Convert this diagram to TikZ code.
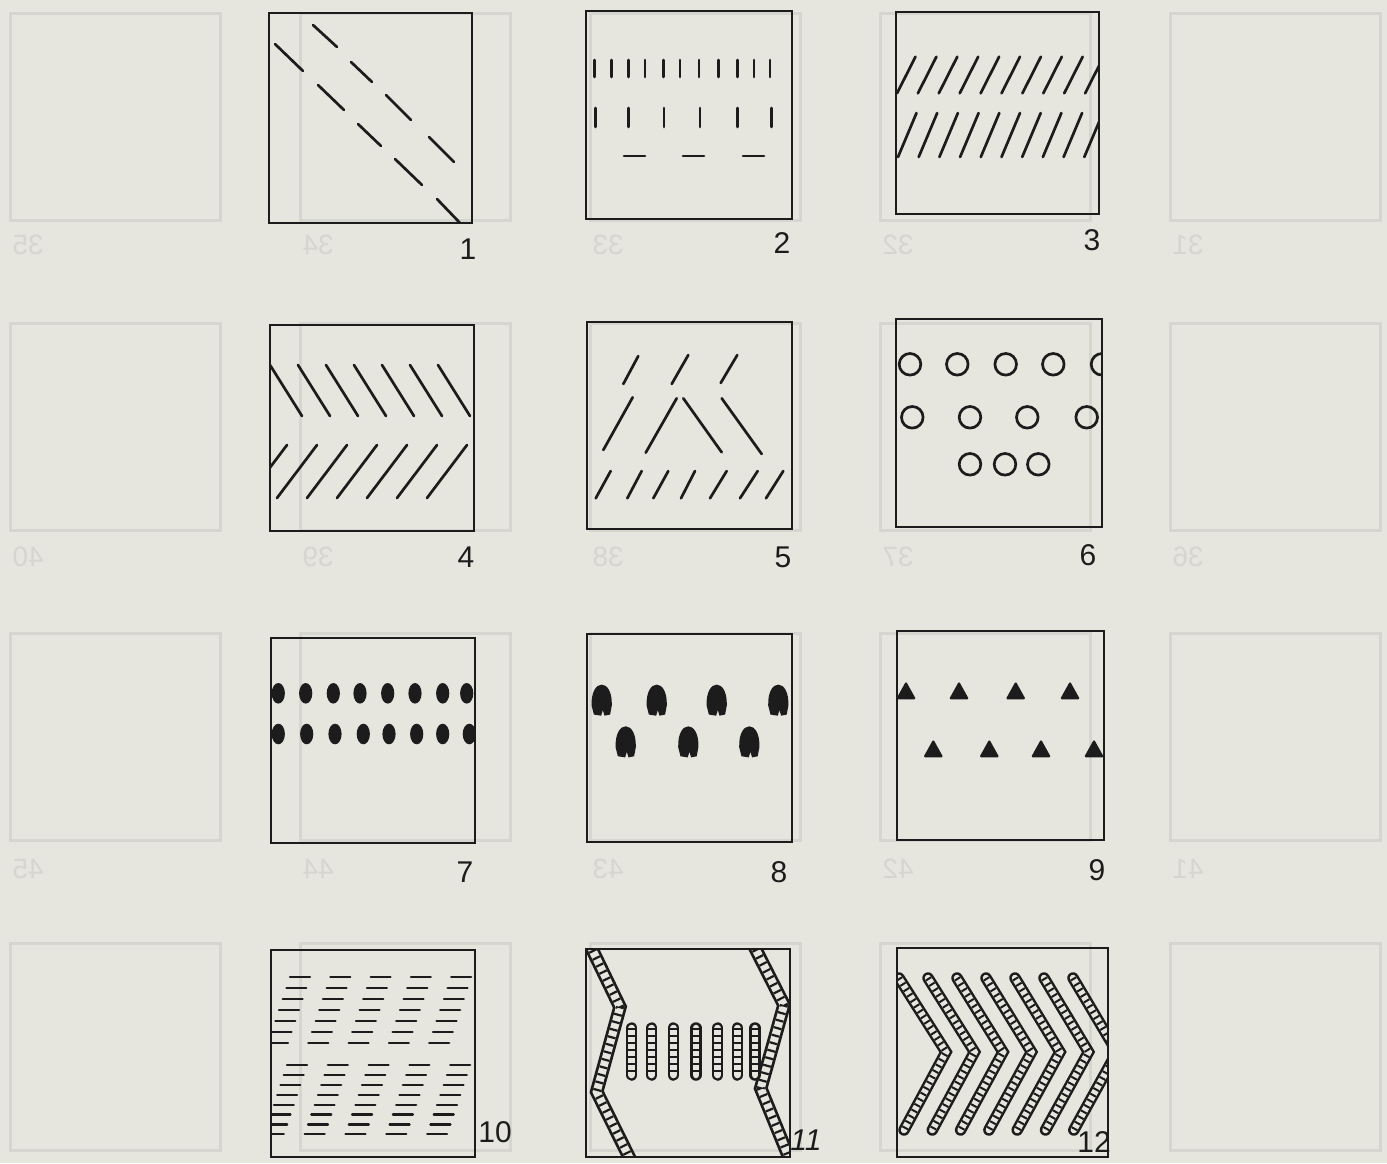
\documentclass[tikz,border=0pt]{standalone}
\usepackage{fontspec}
\setmainfont{Liberation Sans}
\definecolor{paper}{RGB}{230,230,223}
\definecolor{ink}{RGB}{28,28,28}
\definecolor{ghost}{RGB}{213,214,207}
\newcommand\ladder[4]{%
  \draw[ink,line width=#1,line join=miter] #4;
  \draw[paper,line width=#2,line join=miter] #4;
  \draw[ink,line width=#2,line cap=butt,dash pattern=#3] #4;}
\tikzset{
  frame/.style={draw=ink,line width=2.4},
  stroke/.style={draw=ink,line width=2.7},
  dashln/.style={draw=ink,line width=2.2},
  lbl/.style={inner sep=0pt,text=ink,font=\fontsize{30}{30}\selectfont},
  glbl/.style={inner sep=0pt,text=ghost,xscale=-1,font=\fontsize{28}{28}\selectfont},
  blobshape/.pic={\fill[ink,scale=1.12] (-9,5) .. controls (-10,-20) and (10,-20) .. (9,5) -- (7.5,13) -- (2.5,14) -- (1,9) -- (-0.5,14) -- (-7,13) -- cycle;},
  trishape/.pic={\fill[ink,rounded corners=1.5] (-10,9) -- (10,9) -- (0,-9) -- cycle;}
}
\begin{document}
\begin{tikzpicture}[x=1pt,y=-1pt,line cap=round]
\fill[paper] (0,0) rectangle (1387,1163);
\useasboundingbox (0,0) rectangle (1387,1163);
% ghost squares and numbers (show-through of the reverse page)
\foreach \r in {0,...,3}{
  \foreach \k in {0,...,4}{
    \draw[ghost,line width=3] ({10+290*\k},{13+310*\r}) rectangle ({220+290*\k},{220+310*\r});}}
\foreach \k/\a/\b/\c in {0/35/40/45, 1/34/39/44, 2/33/38/43, 3/32/37/42, 4/31/36/41}{
  \node[glbl] (ga\k) at ({28+290*\k},245) {\a};
  \node[glbl] (gb\k) at ({28+290*\k},557) {\b};
  \node[glbl] (gc\k) at ({28+290*\k},869) {\c};}
% ---------- Box 1
\begin{scope}
\clip (269,13) rectangle (472,223);
\foreach \a/\b/\c/\d in {275/44/303/71, 313/25/337/47, 318/85/344/110, 351/62/372/82, 358/124/381/146, 386/95/411/120, 395/159/422/185, 429/137/454/162, 437/199/460/223}
  \draw[stroke] (\a,\b) -- (\c,\d);
\end{scope}
\draw[frame] (269,13) rectangle (472,223);
\node[lbl] (n1) at (468,249) {1};
% ---------- Box 2
\foreach \x in {594.3,611.7,628.3,645,663.3,680,699,718.3,737.3,754,770}
  \draw[stroke] (\x,60) -- (\x,77);
\foreach \x in {595.7,628.3,664,700,737.3,771.7}
  \draw[stroke] (\x,108) -- (\x,127);
\foreach \x in {624,683,743}
  \draw[stroke] (\x,156) -- (\x+21,156);
\draw[frame] (586,11) rectangle (792,219);
\node[lbl] (n2) at (782,243) {2};
% ---------- Box 3
\begin{scope}
\clip (896,12) rectangle (1099,214);
\foreach \j in {0,...,9}{
  \draw[stroke] ({897+20.9*\j},93.3) -- ({915.5+20.9*\j},56.7);
  \draw[stroke] ({898+20.7*\j},157) -- ({916.5+20.7*\j},113);}
\end{scope}
\draw[frame] (896,12) rectangle (1099,214);
\node[lbl] (n3) at (1092,240) {3};
% ---------- Box 4
\begin{scope}
\clip (270,325) rectangle (474,531);
\foreach \j in {0,...,6}{
  \draw[stroke] ({270+28*\j},365) -- ({302+28*\j},416);
  \draw[stroke] ({247+30*\j},498) -- ({287+30*\j},445);}
\end{scope}
\draw[frame] (270,325) rectangle (474,531);
\node[lbl] (n4) at (466,557) {4};
% ---------- Box 5
\foreach \a/\b/\c/\d in {623.3/384/638.3/356, 671.7/384/688.3/355, 720.7/383/737.3/355,
  603.3/450/632.7/397.3, 645.7/452.7/676.7/398.3, 683.3/398.3/721.7/452.3, 721.7/398.3/761.7/454}
  \draw[stroke] (\a,\b) -- (\c,\d);
\foreach \a/\b in {595.7/610.7, 627.3/641.7, 653.3/668.3, 681/695, 710/726.7, 740/757.7, 766/783.3}
  \draw[stroke] (\a,498.3) -- (\b,471);
\draw[frame] (587,322) rectangle (792,529);
\node[lbl] (n5) at (783,557) {5};
% ---------- Box 6
\begin{scope}
\clip (896,319) rectangle (1102,527);
\foreach \x in {910,957.3,1005.7,1053.3,1102} \draw[stroke] (\x,364.3) circle [radius=10.8];
\foreach \x in {912.3,970,1027.3,1086.7} \draw[stroke] (\x,417.3) circle [radius=10.8];
\foreach \x in {970,1005,1038.3} \draw[stroke] (\x,464.3) circle [radius=10.8];
\end{scope}
\draw[frame] (896,319) rectangle (1102,527);
\node[lbl] (n6) at (1088,555) {6};
% ---------- Box 7
\begin{scope}
\clip (271,638) rectangle (475,843);
\foreach \x in {278.3,305.7,333.3,360,387.7,415,442.7,466.7}
  \fill[ink] (\x,693.3) ellipse [x radius=6.6, y radius=10.3];
\foreach \x in {278.3,306.7,335,363.3,389,416.7,442.7,469.3}
  \fill[ink] (\x,734) ellipse [x radius=6.6, y radius=10.3];
\end{scope}
\draw[frame] (271,638) rectangle (475,843);
\node[lbl] (n7) at (465,872) {7};
% ---------- Box 8
\begin{scope}
\clip (587,634) rectangle (792,842);
\foreach \x in {601.7,656.7,716.7,778.3} \pic at (\x,700) {blobshape};
\foreach \x in {625.7,688.3,749.3} \pic at (\x,741.7) {blobshape};
\end{scope}
\draw[frame] (587,634) rectangle (792,842);
\node[lbl] (n8) at (779,872) {8};
% ---------- Box 9
\begin{scope}
\clip (897,631) rectangle (1104,840);
\foreach \x in {906,959,1015.7,1070} \pic at (\x,690.3) {trishape};
\foreach \x in {933.3,989.3,1041,1094} \pic at (\x,748.3) {trishape};
\end{scope}
\draw[frame] (897,631) rectangle (1104,840);
\node[lbl] (n9) at (1097,870) {9};
% ---------- Box 10
\begin{scope}
\clip (271,950) rectangle (475,1157);
\foreach \i in {0,...,6}{
  \foreach \j in {0,...,4}{
    \draw[dashln] ({290-3.67*\i+40.3*\j},{976.7+11.1*\i}) -- +(20,0);}}
\foreach \i in {0,...,7}{
  \foreach \j in {0,...,4}{
    \draw[dashln] ({287-3.3*\i+40.8*\j},{1065+9.9*\i}) -- +(20,0);}}
\end{scope}
\draw[frame] (271,950) rectangle (475,1157);
\node[lbl] (n10) at (495,1132) {10};
% ---------- Box 11
\begin{scope}
\clip (586,949) rectangle (790,1157);
\ladder{13.5}{8}{on 2.2pt off 5.6pt}{(589,943) -- (620,1007) -- (596.7,1091.7) -- (633,1165)}
\ladder{13.5}{8}{on 2.2pt off 5.6pt}{(752,942) -- (784,1005) -- (760.7,1088.3) -- (792,1165)}
\foreach \x in {631.7,651.7,673.3,696,717.7,737.3,755}{%
  \ladder{11.5}{6.5}{on 2pt off 5pt}{(\x,1028) -- (\x,1075)}}
\end{scope}
\draw[frame] (586,949) rectangle (790,1157);
\node[lbl,font=\fontsize{30}{30}\selectfont\itshape] (n11) at (806,1140) {11};
% ---------- Box 12
\begin{scope}
\clip (897,948) rectangle (1108,1157);
\foreach \j in {0,...,6}{%
  \ladder{11.5}{6.5}{on 2pt off 4.4pt}{({899+29*\j},978) -- ({946+28.5*\j},1052) -- ({904+28.3*\j},1130)}}
\end{scope}
\draw[frame] (897,948) rectangle (1108,1157);
\node[lbl] (n12) at (1094,1142) {12};
\end{tikzpicture}
\end{document}
